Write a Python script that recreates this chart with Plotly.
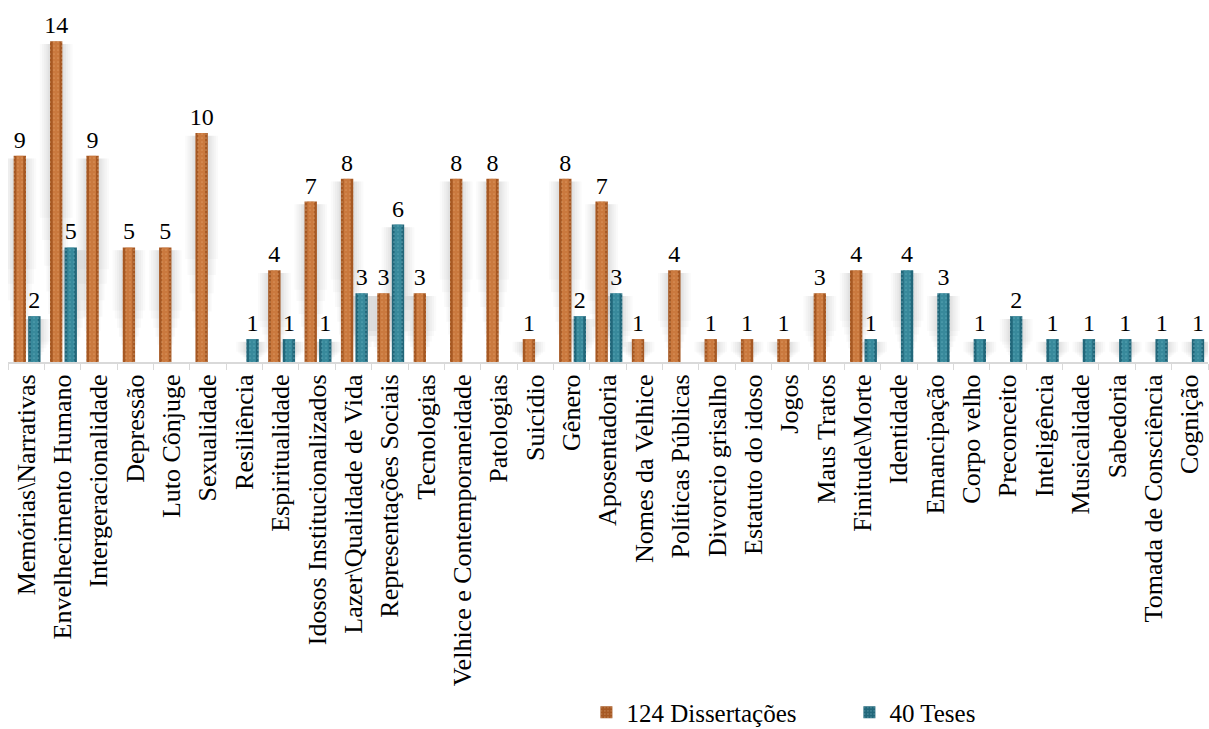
import plotly.graph_objects as go

categorias = [
    "Memórias\\Narrativas", "Envelhecimento Humano", "Intergeracionalidade", "Depressão",
    "Luto Cônjuge", "Sexualidade", "Resiliência", "Espiritualidade",
    "Idosos Institucionalizados", "Lazer\\Qualidade de Vida", "Representações Sociais",
    "Tecnologias", "Velhice e Contemporaneidade", "Patologias", "Suicídio", "Gênero",
    "Aposentadoria", "Nomes da Velhice", "Políticas Públicas", "Divorcio grisalho",
    "Estatuto do idoso", "Jogos", "Maus Tratos", "Finitude\\Morte", "Identidade",
    "Emancipação", "Corpo velho", "Preconceito", "Inteligência", "Musicalidade",
    "Sabedoria", "Tomada de Consciência", "Cognição",
]
dissertacoes = [9, 14, 9, 5, 5, 10, 0, 4, 7, 8, 3, 3, 8, 8, 1, 8, 7, 1, 4, 1, 1, 1, 3, 4,
                0, 0, 0, 0, 0, 0, 0, 0, 0]
teses = [2, 5, 0, 0, 0, 0, 1, 1, 1, 3, 6, 0, 0, 0, 0, 2, 3, 0, 0, 0, 0, 0, 0, 1,
         4, 3, 1, 2, 1, 1, 1, 1, 1]
nome_diss = "124 Dissertações"
nome_teses = "40 Teses"

serif = "Liberation Serif"
LARG = 0.34          # bar width, in category units
OFF_DISS = -0.345    # left edge of the Dissertações bar relative to the category centre
OFF_TESES = 0.055    # left edge of the Teses bar


def rotulos(vals):
    return [str(v) if v else "" for v in vals]


fig = go.Figure()

# soft drop shadow behind each bar, fading towards the baseline
camadas = ((0.56, 0.45, 0.022), (0.44, 0.38, 0.028), (0.32, 0.30, 0.032),
           (0.20, 0.22, 0.036), (0.10, 0.15, 0.036))
for vals, off in ((dissertacoes, OFF_DISS), (teses, OFF_TESES)):
    for extra, frac, alpha in camadas:
        topo = [max(v - 0.12, 0) for v in vals]
        base = [v * frac for v in vals]
        fig.add_trace(go.Bar(
            x=categorias, y=[t - b for t, b in zip(topo, base)], base=base,
            offset=off - extra / 2, width=LARG + extra,
            marker=dict(color=f"rgba(50,50,50,{alpha})", line=dict(width=0)),
            showlegend=False, hoverinfo="skip",
        ))


def serie(vals, nome, cor, cor_claro, off):
    return go.Bar(
        x=categorias, y=vals, name=nome, offset=off, width=LARG,
        text=rotulos(vals), textposition="outside", cliponaxis=False,
        constraintext="none",
        textfont=dict(family=serif, size=24, color="#000000"),
        marker=dict(
            color=cor,
            line=dict(width=0),
            pattern=dict(shape=".", fgcolor=cor_claro, bgcolor=cor,
                         size=4, solidity=0.15, fgopacity=0.45),
        ),
    )


fig.add_trace(serie(dissertacoes, nome_diss, "#A65823", "#F3CDA2", OFF_DISS))
fig.add_trace(serie(teses, nome_teses, "#22677A", "#A8DCE6", OFF_TESES))

# lighter central streak giving the bars a rounded look
for vals, off, cor in ((dissertacoes, OFF_DISS, "rgba(232,150,85,0.55)"),
                       (teses, OFF_TESES, "rgba(75,165,182,0.55)")):
    fig.add_trace(go.Bar(
        x=categorias, y=vals, offset=off + LARG * 0.22, width=LARG * 0.56,
        marker=dict(color=cor, line=dict(width=0)),
        showlegend=False, hoverinfo="skip",
    ))

fig.update_layout(
    width=1209, height=729,
    margin=dict(l=8, r=1, t=0, b=367, autoexpand=False),
    paper_bgcolor="#FFFFFF", plot_bgcolor="#FFFFFF",
    barmode="overlay",
    font=dict(family=serif, size=24, color="#000000"),
    showlegend=True,
    legend=dict(
        orientation="h", x=0.482, xanchor="left", y=-0.905, yanchor="top",
        font=dict(family=serif, size=25), itemwidth=30,
        traceorder="normal", entrywidthmode="pixels", entrywidth=218,
    ),
    xaxis=dict(
        tickangle=-90, tickfont=dict(family=serif, size=26),
        showline=True, linecolor="#D9D9D9", linewidth=2,
        ticks="outside", tickcolor="#D9D9D9", ticklen=6, tickwidth=1,
        tickson="boundaries", showgrid=False, range=[-0.5, 32.5],
        automargin=False,
    ),
    yaxis=dict(range=[0, 15.8], visible=False, showgrid=False, automargin=False),
)

fig.write_html("out.html")
